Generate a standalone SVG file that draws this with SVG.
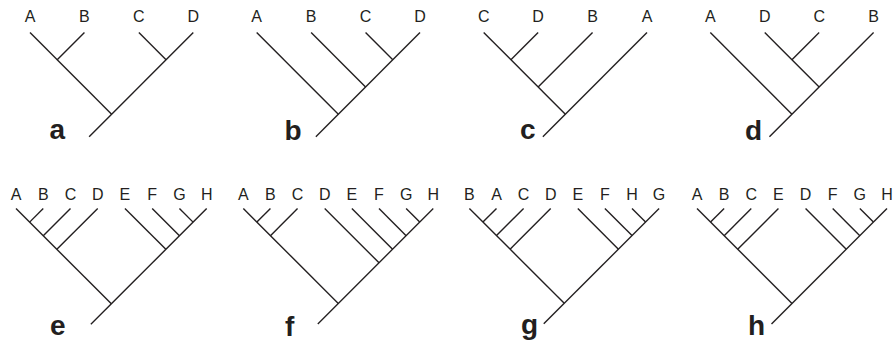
<svg xmlns="http://www.w3.org/2000/svg" width="896" height="343" viewBox="0 0 896 343">
<style>
.br{stroke:#231f20;stroke-width:1.4;fill:none;stroke-linecap:butt}
.lf{font-family:"Liberation Sans","Open Sans",Arial,sans-serif;font-size:16px;fill:#231f20;text-anchor:middle}
.pl{font-family:"Liberation Sans","Open Sans",Arial,sans-serif;font-size:28px;font-weight:bold;fill:#231f20}
</style>
<rect width="896" height="343" fill="#fff"/>
<!-- Tree a -->
<g id="tree-a">
  <g id="a-label"><text class="pl" x="49.5" y="139">a</text></g>
  <g id="a-leaves">
    <text class="lf" x="30" y="21.7">A</text><text class="lf" x="84.43" y="21.7">B</text><text class="lf" x="138.86" y="21.7">C</text><text class="lf" x="193.29" y="21.7">D</text>
  </g>
  <g id="a-connectors" class="br">
    <line x1="30" y1="32.5" x2="111.65" y2="114.15"/>
    <line x1="193.29" y1="32.5" x2="89.15" y2="136.65"/>
    <line x1="84.43" y1="32.5" x2="57.22" y2="59.72"/>
    <line x1="138.86" y1="32.5" x2="166.08" y2="59.72"/>
  </g>
</g>
<!-- Tree b -->
<g id="tree-b">
  <g id="b-label"><text class="pl" x="284.5" y="140">b</text></g>
  <g id="b-leaves">
    <text class="lf" x="256.7" y="21.7">A</text><text class="lf" x="311.13" y="21.7">B</text><text class="lf" x="365.56" y="21.7">C</text><text class="lf" x="419.99" y="21.7">D</text>
  </g>
  <g id="b-connectors" class="br">
    <line x1="256.7" y1="32.5" x2="338.35" y2="114.15"/>
    <line x1="419.99" y1="32.5" x2="315.85" y2="136.65"/>
    <line x1="311.13" y1="32.5" x2="365.56" y2="86.93"/>
    <line x1="365.56" y1="32.5" x2="392.78" y2="59.72"/>
  </g>
</g>
<!-- Tree c -->
<g id="tree-c">
  <g id="c-label"><text class="pl" x="520" y="138.5">c</text></g>
  <g id="c-leaves">
    <text class="lf" x="483.7" y="21.7">C</text><text class="lf" x="538.13" y="21.7">D</text><text class="lf" x="592.56" y="21.7">B</text><text class="lf" x="646.99" y="21.7">A</text>
  </g>
  <g id="c-connectors" class="br">
    <line x1="483.7" y1="32.5" x2="565.35" y2="114.15"/>
    <line x1="646.99" y1="32.5" x2="542.85" y2="136.65"/>
    <line x1="538.13" y1="32.5" x2="510.92" y2="59.72"/>
    <line x1="592.56" y1="32.5" x2="538.13" y2="86.93"/>
  </g>
</g>
<!-- Tree d -->
<g id="tree-d">
  <g id="d-label"><text class="pl" x="745" y="139.5">d</text></g>
  <g id="d-leaves">
    <text class="lf" x="710.3" y="21.7">A</text><text class="lf" x="764.73" y="21.7">D</text><text class="lf" x="819.16" y="21.7">C</text><text class="lf" x="873.59" y="21.7">B</text>
  </g>
  <g id="d-connectors" class="br">
    <line x1="710.3" y1="32.5" x2="791.95" y2="114.15"/>
    <line x1="873.59" y1="32.5" x2="769.45" y2="136.65"/>
    <line x1="764.73" y1="32.5" x2="819.16" y2="86.93"/>
    <line x1="819.16" y1="32.5" x2="791.95" y2="59.72"/>
  </g>
</g>
<!-- Tree e -->
<g id="tree-e">
  <g id="e-label"><text class="pl" x="50" y="335">e</text></g>
  <g id="e-leaves">
    <text class="lf" x="16" y="199.8">A</text><text class="lf" x="43.24" y="199.8">B</text><text class="lf" x="70.48" y="199.8">C</text><text class="lf" x="97.72" y="199.8">D</text><text class="lf" x="124.96" y="199.8">E</text><text class="lf" x="152.2" y="199.8">F</text><text class="lf" x="179.44" y="199.8">G</text><text class="lf" x="206.68" y="199.8">H</text>
  </g>
  <g id="e-connectors" class="br">
    <line x1="16" y1="208.5" x2="111.34" y2="303.84"/>
    <line x1="206.68" y1="208.5" x2="90.84" y2="324.34"/>
    <line x1="43.24" y1="208.5" x2="29.62" y2="222.12"/>
    <line x1="70.48" y1="208.5" x2="43.24" y2="235.74"/>
    <line x1="97.72" y1="208.5" x2="56.86" y2="249.36"/>
    <line x1="124.96" y1="208.5" x2="165.82" y2="249.36"/>
    <line x1="152.2" y1="208.5" x2="179.44" y2="235.74"/>
    <line x1="179.44" y1="208.5" x2="193.06" y2="222.12"/>
  </g>
</g>
<!-- Tree f -->
<g id="tree-f">
  <g id="f-label"><text class="pl" x="285" y="335.7">f</text></g>
  <g id="f-leaves">
    <text class="lf" x="243.3" y="199.8">A</text><text class="lf" x="270.44" y="199.8">B</text><text class="lf" x="297.58" y="199.8">C</text><text class="lf" x="324.72" y="199.8">D</text><text class="lf" x="351.86" y="199.8">E</text><text class="lf" x="379" y="199.8">F</text><text class="lf" x="406.14" y="199.8">G</text><text class="lf" x="433.28" y="199.8">H</text>
  </g>
  <g id="f-connectors" class="br">
    <line x1="243.3" y1="208.5" x2="338.29" y2="303.49"/>
    <line x1="433.28" y1="208.5" x2="317.79" y2="323.99"/>
    <line x1="270.44" y1="208.5" x2="256.87" y2="222.07"/>
    <line x1="297.58" y1="208.5" x2="270.44" y2="235.64"/>
    <line x1="324.72" y1="208.5" x2="379" y2="262.78"/>
    <line x1="351.86" y1="208.5" x2="392.57" y2="249.21"/>
    <line x1="379" y1="208.5" x2="406.14" y2="235.64"/>
    <line x1="406.14" y1="208.5" x2="419.71" y2="222.07"/>
  </g>
</g>
<!-- Tree g -->
<g id="tree-g">
  <g id="g-label"><text class="pl" x="521" y="333.5">g</text></g>
  <g id="g-leaves">
    <text class="lf" x="469.4" y="199.8">B</text><text class="lf" x="496.5" y="199.8">A</text><text class="lf" x="523.6" y="199.8">C</text><text class="lf" x="550.7" y="199.8">D</text><text class="lf" x="577.8" y="199.8">E</text><text class="lf" x="604.9" y="199.8">F</text><text class="lf" x="632" y="199.8">H</text><text class="lf" x="659.1" y="199.8">G</text>
  </g>
  <g id="g-connectors" class="br">
    <line x1="469.4" y1="208.5" x2="564.25" y2="303.35"/>
    <line x1="659.1" y1="208.5" x2="543.75" y2="323.85"/>
    <line x1="496.5" y1="208.5" x2="482.95" y2="222.05"/>
    <line x1="523.6" y1="208.5" x2="496.5" y2="235.6"/>
    <line x1="550.7" y1="208.5" x2="510.05" y2="249.15"/>
    <line x1="577.8" y1="208.5" x2="618.45" y2="249.15"/>
    <line x1="604.9" y1="208.5" x2="632" y2="235.6"/>
    <line x1="632" y1="208.5" x2="645.55" y2="222.05"/>
  </g>
</g>
<!-- Tree h -->
<g id="tree-h">
  <g id="h-label"><text class="pl" x="748" y="335">h</text></g>
  <g id="h-leaves">
    <text class="lf" x="697" y="199.8">A</text><text class="lf" x="724.14" y="199.8">B</text><text class="lf" x="751.28" y="199.8">C</text><text class="lf" x="778.42" y="199.8">E</text><text class="lf" x="805.56" y="199.8">D</text><text class="lf" x="832.7" y="199.8">F</text><text class="lf" x="859.84" y="199.8">G</text><text class="lf" x="886.98" y="199.8">H</text>
  </g>
  <g id="h-connectors" class="br">
    <line x1="697" y1="208.5" x2="791.99" y2="303.49"/>
    <line x1="886.98" y1="208.5" x2="771.49" y2="323.99"/>
    <line x1="724.14" y1="208.5" x2="710.57" y2="222.07"/>
    <line x1="751.28" y1="208.5" x2="724.14" y2="235.64"/>
    <line x1="778.42" y1="208.5" x2="737.71" y2="249.21"/>
    <line x1="805.56" y1="208.5" x2="846.27" y2="249.21"/>
    <line x1="832.7" y1="208.5" x2="859.84" y2="235.64"/>
    <line x1="859.84" y1="208.5" x2="873.41" y2="222.07"/>
  </g>
</g>
</svg>
